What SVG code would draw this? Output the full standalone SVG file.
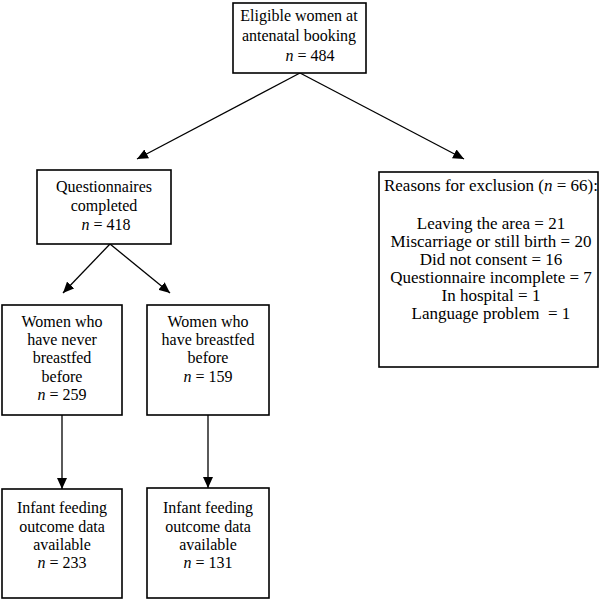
<svg xmlns="http://www.w3.org/2000/svg" width="600" height="600" viewBox="0 0 600 600">
<style>
.box{fill:#fff;stroke:#000;stroke-width:1.6}
text{font-family:"Liberation Serif","Times New Roman",serif;font-size:16px;fill:#000;text-anchor:middle}
.big{font-size:17px}
.c{stroke:#000;stroke-width:1.3;fill:none;marker-end:url(#ah)}
</style>
<defs>
<marker id="ah" markerWidth="12" markerHeight="10" refX="11" refY="5" orient="auto" markerUnits="userSpaceOnUse">
<path d="M0,0 L11,5 L0,10 Z" fill="#000"/>
</marker>
</defs>
<rect width="600" height="600" fill="#fff"/>
<g id="connectors">
<line class="c" x1="300" y1="73" x2="137" y2="159"/>
<line class="c" x1="300" y1="73" x2="464" y2="159"/>
<line class="c" x1="110" y1="244" x2="63" y2="293"/>
<line class="c" x1="110" y1="244" x2="170" y2="293"/>
<line class="c" x1="62" y1="415" x2="62" y2="489"/>
<line class="c" x1="208" y1="415" x2="208" y2="488"/>
</g>
<g id="eligible">
<rect class="box" x="233" y="3" width="133" height="70"/>
<text x="299" y="21">Eligible women at</text>
<text x="299" y="41">antenatal booking</text>
<text x="310" y="61"><tspan font-style="italic">n</tspan> = 484</text>
</g>
<g id="questionnaires">
<rect class="box" x="37" y="170" width="134" height="74"/>
<text x="104" y="192">Questionnaires</text>
<text x="104" y="211">completed</text>
<text x="106" y="230"><tspan font-style="italic">n</tspan> = 418</text>
</g>
<g id="exclusion">
<rect class="box" x="379" y="172" width="219" height="195"/>
<text class="big" x="491" y="191">Reasons for exclusion (<tspan font-style="italic">n</tspan> = 66):</text>
<text class="big" x="491" y="229">Leaving the area = 21</text>
<text class="big" x="491" y="247">Miscarriage or still birth = 20</text>
<text class="big" x="491" y="265">Did not consent = 16</text>
<text class="big" x="491" y="283">Questionnaire incomplete = 7</text>
<text class="big" x="491" y="301">In hospital = 1</text>
<text class="big" x="491" y="319" xml:space="preserve">Language problem  = 1</text>
</g>
<g id="never">
<rect class="box" x="2" y="305" width="120" height="110"/>
<text x="62" y="327">Women who</text>
<text x="62" y="345">have never</text>
<text x="62" y="363">breastfed</text>
<text x="62" y="382">before</text>
<text x="62" y="400"><tspan font-style="italic">n</tspan> = 259</text>
</g>
<g id="breastfed">
<rect class="box" x="147" y="305" width="122" height="110"/>
<text x="208" y="327">Women who</text>
<text x="208" y="345">have breastfed</text>
<text x="208" y="363">before</text>
<text x="208" y="382"><tspan font-style="italic">n</tspan> = 159</text>
</g>
<g id="outcome-never">
<rect class="box" x="2" y="489" width="120" height="109"/>
<text x="62" y="513">Infant feeding</text>
<text x="62" y="532">outcome data</text>
<text x="62" y="550">available</text>
<text x="62" y="568"><tspan font-style="italic">n</tspan> = 233</text>
</g>
<g id="outcome-breastfed">
<rect class="box" x="147" y="488" width="122" height="110"/>
<text x="208" y="513">Infant feeding</text>
<text x="208" y="532">outcome data</text>
<text x="208" y="550">available</text>
<text x="208" y="568"><tspan font-style="italic">n</tspan> = 131</text>
</g>
</svg>
